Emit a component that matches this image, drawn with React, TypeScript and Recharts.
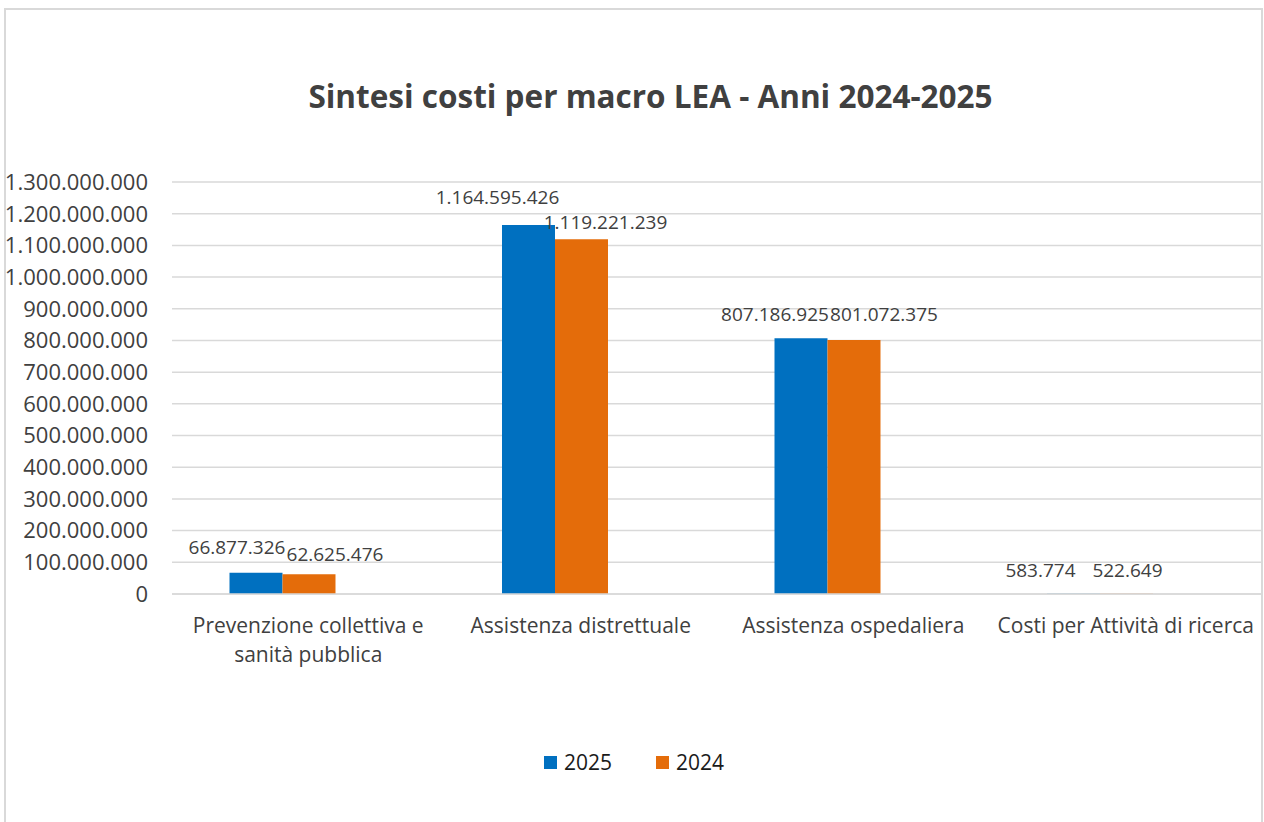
import { BarChart, Bar, XAxis, YAxis, CartesianGrid, LabelList } from 'recharts'

const categories = [
  'Prevenzione collettiva e sanità pubblica',
  'Assistenza distrettuale',
  'Assistenza ospedaliera',
  'Costi per Attività di ricerca',
]
const values2025 = [66877326, 1164595426, 807186925, 583774]
const values2024 = [62625476, 1119221239, 801072375, 522649]
const seriesNames = ['2025', '2024']
const yTicks = [
  0, 100000000, 200000000, 300000000, 400000000, 500000000, 600000000,
  700000000, 800000000, 900000000, 1000000000, 1100000000, 1200000000, 1300000000,
]

const BLUE = '#0070C0'
const ORANGE = '#E46C0A'
const TEXT = '#404040'
const GRID = '#d9d9d9'
const FONT = '"Open Sans", sans-serif'

// label nudges (Excel shifts overlapping data labels apart)
const nudge2025 = [
  [-19, 19],
  [-31, 21],
  [-26, 17],
  [-33, 17],
]
const nudge2024 = [
  [26, 13],
  [24, 10],
  [30, 19],
  [1, 17],
]

const fmt = (v: number) => String(v).replace(/\B(?=(\d{3})+(?!\d))/g, '.')

const data = categories.map((name, i) => ({
  name,
  v2025: values2025[i],
  v2024: values2024[i],
  empty: null,
}))

const makeLabel = (nudge: number[][]) => (props: any) => {
  const { x, y, width, value, index } = props
  if (value == null) return null
  const [dx, lift] = nudge[index] || [0, 14]
  return (
    <text
      x={Number(x) + Number(width) / 2 + dx}
      y={Number(y) - lift}
      textAnchor="middle"
      fontSize={19}
      fontFamily={FONT}
      fill={TEXT}
    >
      {fmt(value)}
    </text>
  )
}

let ctx: CanvasRenderingContext2D | null = null
function wrap(text: string, maxW: number, font: string) {
  if (!ctx) ctx = document.createElement('canvas').getContext('2d')
  if (!ctx) return [text]
  ctx.font = font
  const lines: string[] = []
  let cur = ''
  for (const w of text.split(' ')) {
    const test = cur ? cur + ' ' + w : w
    if (cur && ctx.measureText(test).width > maxW) {
      lines.push(cur)
      cur = w
    } else cur = test
  }
  if (cur) lines.push(cur)
  return lines
}

const CategoryTick = (props: any) => {
  const { x, y, payload } = props
  const lines = wrap(String(payload.value), 262, '21px "Open Sans"')
  return (
    <text x={x} y={y} textAnchor="middle" fontSize={21} fontFamily={FONT} fill={TEXT}>
      {lines.map((l, i) => (
        <tspan key={i} x={x} dy={i === 0 ? '0.71em' : 29}>
          {l}
        </tspan>
      ))}
    </text>
  )
}

export default function App() {
  return (
    <div
      style={{
        position: 'fixed',
        left: 0,
        top: 0,
        width: 1264,
        height: 822,
        overflow: 'hidden',
        background: '#fff',
        fontFamily: FONT,
      }}
    >
      <div
        style={{
          position: 'absolute',
          left: 4,
          top: 8,
          width: 1259,
          height: 900,
          border: `2px solid ${GRID}`,
          boxSizing: 'border-box',
        }}
      />
      <div
        style={{
          position: 'absolute',
          left: 0,
          width: 1301,
          top: 74,
          textAlign: 'center',
          fontSize: 31.5,
          fontWeight: 700,
          color: TEXT,
          whiteSpace: 'nowrap',
        }}
      >
        Sintesi costi per macro LEA - Anni 2024-2025
      </div>
      <div style={{ position: 'absolute', left: 0, top: 0 }}>
        <BarChart
          width={1264}
          height={822}
          data={data}
          margin={{ top: 182, right: 2, left: 0, bottom: 138 }}
          barCategoryGap="21.1%"
          barGap={0}
        >
          <CartesianGrid vertical={false} stroke={GRID} strokeWidth={1.5} />
          <XAxis
            dataKey="name"
            interval={0}
            tickLine={false}
            axisLine={{ stroke: GRID, strokeWidth: 1.5 }}
            height={90}
            tickMargin={18}
            tick={<CategoryTick />}
          />
          <YAxis
            width={172}
            domain={[0, 1300000000]}
            ticks={yTicks}
            interval={0}
            tickLine={false}
            axisLine={false}
            tickMargin={18}
            tickFormatter={fmt}
            tick={{ fontSize: 22, fill: TEXT, fontFamily: FONT }}
          />
          <Bar dataKey="v2025" name={seriesNames[0]} fill={BLUE} isAnimationActive={false}>
            <LabelList dataKey="v2025" content={makeLabel(nudge2025)} />
          </Bar>
          <Bar dataKey="v2024" name={seriesNames[1]} fill={ORANGE} isAnimationActive={false}>
            <LabelList dataKey="v2024" content={makeLabel(nudge2024)} />
          </Bar>
          <Bar dataKey="empty" fill="#A5A5A5" isAnimationActive={false} />
        </BarChart>
      </div>
      <div
        style={{
          position: 'absolute',
          left: 544,
          top: 748,
          display: 'flex',
          alignItems: 'center',
          fontSize: 21,
          color: '#1a1a1a',
        }}
      >
        {seriesNames.map((s, i) => (
          <div key={s} style={{ display: 'flex', alignItems: 'center', marginRight: 44 }}>
            <span
              style={{
                display: 'inline-block',
                width: 13,
                height: 13,
                background: i === 0 ? BLUE : ORANGE,
                marginRight: 7,
              }}
            />
            {s}
          </div>
        ))}
      </div>
    </div>
  )
}
